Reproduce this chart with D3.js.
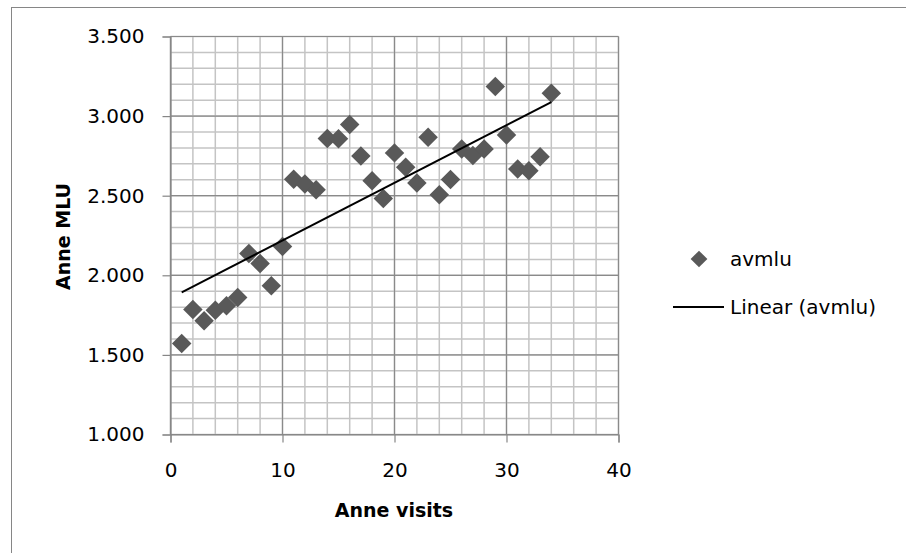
<!DOCTYPE html>
<html><head><meta charset="utf-8">
<script src="https://cdn.jsdelivr.net/npm/d3@7"></script>
<style>
html,body{margin:0;padding:0;background:#fff;}
svg{display:block;}
text{font-family:"DejaVu Sans",sans-serif;fill:#000;}
</style></head>
<body>
<script>
const visits = [1,2,3,4,5,6,7,8,9,10,11,12,13,14,15,16,17,18,19,20,21,22,23,24,25,26,27,28,29,30,31,32,33,34];
const avmlu = [1.571,1.785,1.714,1.781,1.808,1.860,2.137,2.074,1.934,2.181,
               2.603,2.574,2.538,2.860,2.857,2.947,2.750,2.594,2.483,2.769,
               2.678,2.580,2.867,2.506,2.601,2.794,2.752,2.794,3.186,2.882,
               2.668,2.657,2.745,3.143];
const xTicks = [0,10,20,30,40];
const yTicks = [1.0,1.5,2.0,2.5,3.0,3.5];
const xMinor = d3.range(0,41,2);
const yMinor = d3.range(10,36,1).map(d=>d/10);
const seriesName = "avmlu";
const trendName = "Linear (avmlu)";
const xTitle = "Anne visits";
const yTitle = "Anne MLU";

const W=906,H=553;
const FONT='"DejaVu Sans",sans-serif';
const svg=d3.select("body").append("svg").attr("width",W).attr("height",H);
svg.append("rect").attr("x",11.5).attr("y",7.5).attr("width",W).attr("height",H)
  .attr("fill","#fff").attr("stroke","#868686").attr("stroke-width",1);

const x=d3.scaleLinear().domain([0,40]).range([170.5,618.5]);
const y=d3.scaleLinear().domain([1,3.5]).range([434.5,36.5]);

const g=svg.append("g");
// minor grid
g.selectAll(".vmin").data(xMinor).join("line")
  .attr("x1",d=>x(d)).attr("x2",d=>x(d)).attr("y1",y(1)).attr("y2",y(3.5))
  .attr("stroke","#c4c4c4").attr("stroke-width",1.5);
g.selectAll(".hmin").data(yMinor).join("line")
  .attr("y1",d=>y(d)).attr("y2",d=>y(d)).attr("x1",x(0)).attr("x2",x(40))
  .attr("stroke","#c4c4c4").attr("stroke-width",1.5);
// major grid
g.selectAll(".vmaj").data(xTicks).join("line")
  .attr("x1",d=>x(d)).attr("x2",d=>x(d)).attr("y1",y(1)).attr("y2",y(3.5))
  .attr("stroke","#8a8a8a").attr("stroke-width",1.2);
g.selectAll(".hmaj").data(yTicks).join("line")
  .attr("y1",d=>y(d)).attr("y2",d=>y(d)).attr("x1",x(0)).attr("x2",x(40))
  .attr("stroke","#8a8a8a").attr("stroke-width",1.2);

// axes
const xAxis=d3.axisBottom(x).tickValues(xTicks).tickSize(8).tickPadding(20).tickFormat(d3.format("d"));
const yAxis=d3.axisLeft(y).tickValues(yTicks).tickSize(8).tickPadding(18).tickFormat(d3.format(".3f"));
const gx=svg.append("g").attr("transform",`translate(0,${y(1)})`).call(xAxis);
const gy=svg.append("g").attr("transform",`translate(${x(0)},0)`).call(yAxis);
[gx,gy].forEach(a=>{
  a.select(".domain").attr("stroke","#868686").attr("stroke-width",1.2);
  a.selectAll(".tick line").attr("stroke","#868686").attr("stroke-width",1.2);
  a.selectAll(".tick text").attr("font-size",20).attr("font-family",FONT).attr("fill","#000");
});

// trendline (least squares)
const n=visits.length;
const mx=d3.mean(visits), my=d3.mean(avmlu);
let sxy=0,sxx=0;
for(let i=0;i<n;i++){sxy+=(visits[i]-mx)*(avmlu[i]-my);sxx+=(visits[i]-mx)**2;}
const slope=sxy/sxx, icpt=my-slope*mx;
const x0=d3.min(visits), x1=d3.max(visits);

// points
svg.selectAll(".pt").data(visits).join("path")
  .attr("d",d3.symbol().type(d3.symbolSquare).size(190))
  .attr("transform",(d,i)=>`translate(${x(d)},${y(avmlu[i])}) rotate(45)`)
  .attr("fill","#595959");

svg.append("line").attr("x1",x(x0)).attr("y1",y(icpt+slope*x0))
  .attr("x2",x(x1)).attr("y2",y(icpt+slope*x1))
  .attr("stroke","#000").attr("stroke-width",2);

// axis titles
svg.append("text").attr("x",394).attr("y",517).attr("text-anchor","middle")
  .attr("font-size",19).attr("font-weight","bold").text(xTitle);
svg.append("text").attr("transform","translate(70,236.5) rotate(-90)").attr("text-anchor","middle")
  .attr("font-size",19).attr("font-weight","bold").text(yTitle);

// legend
svg.append("path").attr("d",d3.symbol().type(d3.symbolSquare).size(140))
  .attr("transform","translate(699,259) rotate(45)").attr("fill","#595959");
svg.append("text").attr("x",730).attr("y",259).attr("dy","0.35em").attr("font-size",20).text(seriesName);
svg.append("line").attr("x1",673).attr("x2",724).attr("y1",307).attr("y2",307).attr("stroke","#000").attr("stroke-width",2);
svg.append("text").attr("x",730).attr("y",307).attr("dy","0.35em").attr("font-size",20).text(trendName);
</script>
</body></html>
